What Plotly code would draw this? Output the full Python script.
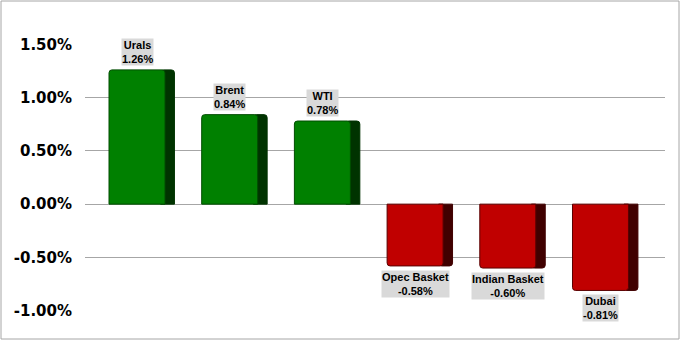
import plotly.graph_objects as go

categories = ["Urals", "Brent", "WTI", "Opec Basket", "Indian Basket", "Dubai"]
values = [1.26, 0.84, 0.78, -0.58, -0.60, -0.81]
tick_vals = [-1.0, -0.5, 0.0, 0.5, 1.0, 1.5]
tick_text = ["-1.00%", "-0.50%", "0.00%", "0.50%", "1.00%", "1.50%"]

front_cols = ["#008000" if v >= 0 else "#C00000" for v in values]
side_cols = ["#003300" if v >= 0 else "#400000" for v in values]
line_cols = ["#004d00" if v >= 0 else "#5a0000" for v in values]
xs = list(range(len(categories)))

fig = go.Figure()
# side face (3D depth)
fig.add_trace(go.Bar(x=xs, y=values, offset=0.20, width=0.15,
                     marker=dict(color=side_cols, line=dict(color=side_cols, width=1), cornerradius=3),
                     hoverinfo="skip", showlegend=False))
# front face
fig.add_trace(go.Bar(x=xs, y=values, offset=-0.356, width=0.604,
                     marker=dict(color=front_cols, line=dict(color=line_cols, width=1), cornerradius=3),
                     showlegend=False))

for i, (c, v) in enumerate(zip(categories, values)):
    fig.add_annotation(x=i - 0.054, y=v, xref="x", yref="y",
                       text=f"<b>{c}<br>{v:.2f}%</b>", showarrow=False,
                       yanchor="bottom" if v >= 0 else "top",
                       yshift=4 if v >= 0 else -4,
                       bgcolor="#D9D9D9", borderpad=0,
                       font=dict(family="Arial, Liberation Sans", size=11, color="#000000"))

L, R, T, B = 85, 16, 44, 30
W, H = 681, 341
pw, ph = W - L - R, H - T - B
fig.add_shape(type="rect", xref="paper", yref="paper", layer="above",
              x0=(1 - L) / pw, x1=(W - 2 - L) / pw,
              y0=(H - B - (H - 2)) / ph, y1=(H - B - 1) / ph,
              line=dict(color="#A6A6A6", width=1))

fig.update_layout(
    width=W, height=H, barmode="overlay",
    margin=dict(l=L, r=R, t=T, b=B),
    paper_bgcolor="white", plot_bgcolor="white",
    xaxis=dict(range=[-0.615, 5.642], showticklabels=False, showgrid=False, zeroline=False, showline=False),
    yaxis=dict(range=[-1.003, 1.503], tickvals=tick_vals, ticktext=tick_text,
               showgrid=True, gridcolor="#A6A6A6", gridwidth=1,
               zeroline=True, zerolinecolor="#A6A6A6", zerolinewidth=1,
               showline=False, ticks="", ticklabelstandoff=12,
               tickfont=dict(family="Verdana, DejaVu Sans", size=15, color="#000000", weight="bold")),
)
fig.write_html("out.html")
